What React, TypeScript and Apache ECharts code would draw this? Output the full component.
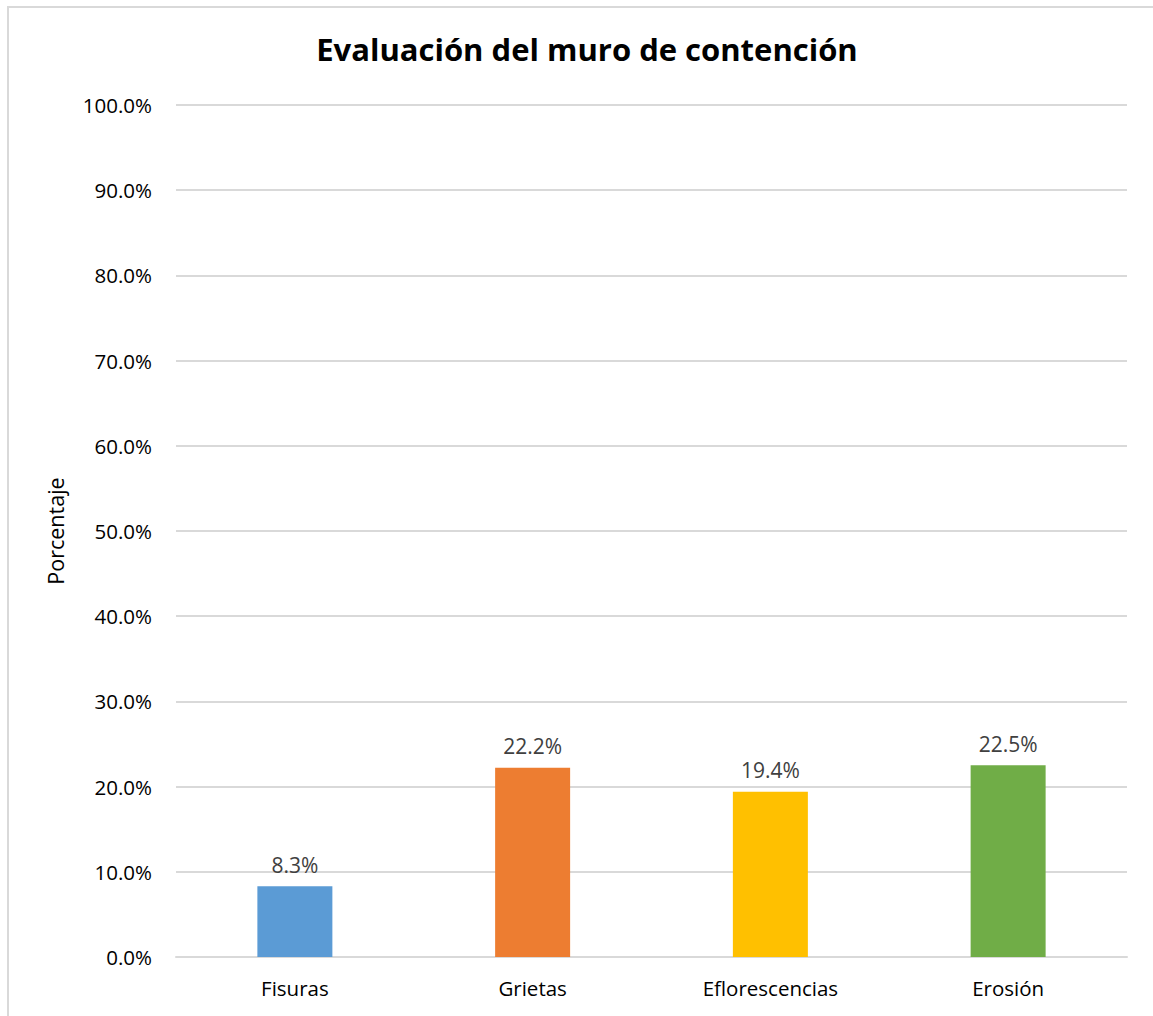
import React, { useEffect, useRef } from "react";
import * as echarts from "echarts";

const categories = ["Fisuras", "Grietas", "Eflorescencias", "Erosión"];
const values = [0.083, 0.222, 0.194, 0.225];
const colors = ["#5B9BD5", "#ED7D31", "#FFC000", "#70AD47"];
const titleText = "Evaluación del muro de contención";
const yAxisName = "Porcentaje";

const FONT = "'Open Sans', 'Noto Sans', sans-serif";

export default function App() {
  const ref = useRef<HTMLDivElement>(null);
  useEffect(() => {
    if (!ref.current) return;
    const chart = echarts.init(ref.current, null, { renderer: "svg" });
    chart.setOption({
      animation: false,
      backgroundColor: "#ffffff",
      title: {
        text: titleText,
        left: 582,
        textAlign: "center",
        top: 28,
        textStyle: { fontFamily: FONT, fontWeight: "bold", fontSize: 31, color: "#000000" },
      },
      grid: { left: 176, right: 26, top: 105, bottom: 59, containLabel: false },
      xAxis: {
        type: "category",
        data: categories,
        axisLine: { show: true, lineStyle: { color: "#d9d9d9", width: 2 } },
        axisTick: { show: false },
        axisLabel: { fontFamily: FONT, fontSize: 20.5, color: "#000000", margin: 20 },
      },
      yAxis: {
        type: "value",
        min: 0,
        max: 1,
        interval: 0.1,
        name: yAxisName,
        nameLocation: "middle",
        nameGap: 110,
        nameTextStyle: { fontFamily: FONT, fontSize: 21.5, color: "#000000" },
        axisLine: { show: false },
        axisTick: { show: false },
        splitLine: { lineStyle: { color: "#d9d9d9", width: 2 } },
        axisLabel: {
          fontFamily: FONT,
          fontSize: 20.5,
          color: "#000000",
          margin: 24,
          formatter: (v: number) => (v * 100).toFixed(1) + "%",
        },
      },
      series: [
        {
          type: "bar",
          data: values.map((v, i) => ({ value: v, itemStyle: { color: colors[i] } })),
          barWidth: 75,
          label: {
            show: true,
            position: "top",
            distance: 11,
            fontFamily: FONT,
            fontSize: 21,
            color: "#404040",
            formatter: (p: any) => (p.value * 100).toFixed(1) + "%",
          },
        },
      ],
    });
    return () => chart.dispose();
  }, []);
  return (
    <>
      <div
        ref={ref}
        style={{ position: "absolute", left: 0, top: 0, width: 1153, height: 1016 }}
      />
      <div
        style={{
          position: "absolute",
          left: 7,
          top: 6,
          width: 1146,
          height: 1010,
          boxSizing: "border-box",
          borderLeft: "2px solid #d9d9d9",
          borderTop: "2px solid #d9d9d9",
          pointerEvents: "none",
        }}
      />
    </>
  );
}
